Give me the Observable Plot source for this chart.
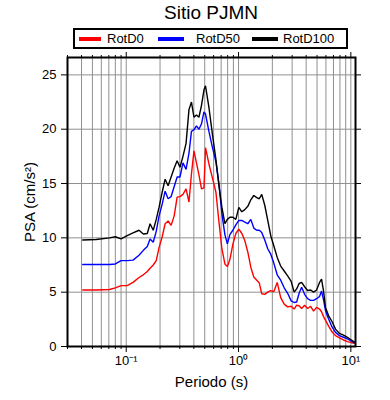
<!DOCTYPE html>
<html><head><meta charset="utf-8">
<script src="https://cdn.jsdelivr.net/npm/d3@7"></script>
<script src="https://cdn.jsdelivr.net/npm/@observablehq/plot@0.6"></script>
<style>
body{margin:0;background:#fff;font-family:"Liberation Sans",Arial,Helvetica,sans-serif;}
#wrap{position:relative;width:390px;height:400px;overflow:hidden;background:#fff;}
#title{position:absolute;left:0;width:422px;top:3px;text-align:center;font-size:19px;line-height:19px;color:#000;}
#legend{position:absolute;left:73px;top:28px;width:275px;height:21px;box-sizing:border-box;border:2px solid #000;background:#fff;}
#legend .sw{position:absolute;height:4px;top:6.5px;}
#legend .lb{position:absolute;top:0;line-height:17px;font-size:13px;color:#000;white-space:nowrap;}
#chart{position:absolute;left:0;top:52px;}
</style></head>
<body>
<div id="wrap">
  <div id="title">Sitio PJMN</div>
  <div id="legend"></div>
  <div id="chart"></div>
</div>
<script>
const seriesNames = ["RotD0", "RotD50", "RotD100"];
const seriesColors = ["#ff0000", "#0000ff", "#000000"];

const periods = [0.041, 0.054, 0.071, 0.080, 0.090, 0.102, 0.115, 0.130, 0.142, 0.154,
  0.163, 0.174, 0.185, 0.196, 0.209, 0.222, 0.236, 0.251, 0.267, 0.284,
  0.301, 0.320, 0.341, 0.362, 0.381, 0.401, 0.422, 0.444, 0.468, 0.492,
  0.508, 0.545, 0.586, 0.629, 0.669, 0.711, 0.756, 0.795, 0.837, 0.890,
  0.946, 1.006, 1.070, 1.137, 1.209, 1.286, 1.367, 1.453, 1.530, 1.609,
  1.712, 1.820, 1.935, 2.057, 2.210, 2.373, 2.550, 2.737, 2.942, 3.127,
  3.291, 3.463, 3.646, 3.875, 4.120, 4.381, 4.658, 4.952, 5.265, 5.484,
  5.712, 5.950, 6.326, 6.797, 7.300, 7.922, 8.598, 9.328, 10.12, 10.76];

const rotD0 = [5.2, 5.2, 5.25, 5.4, 5.6, 5.6, 5.9, 6.35, 6.6, 6.9,
  7.2, 7.5, 7.9, 9.1, 10.1, 11.3, 11.55, 11.15, 12.0, 13.75,
  13.8, 14.0, 14.5, 13.3, 15.9, 18.0, 16.9, 15.8, 14.5, 14.6,
  18.3, 16.8, 15.5, 14.2, 11.5, 9.0, 7.6, 7.35, 8.0, 9.4,
  10.4, 10.8, 10.4, 9.75, 8.7, 7.3, 6.4, 6.1, 5.85, 4.85,
  4.8, 5.0, 5.15, 5.05, 5.9, 4.5, 3.9, 3.65, 3.7, 3.45,
  3.8, 3.75, 3.5, 3.8, 3.5, 3.7, 3.25, 3.6, 3.45, 3.2,
  2.75, 2.4, 1.9, 1.35, 1.0, 0.8, 0.6, 0.45, 0.35, 0.3];

const rotD50 = [7.55, 7.55, 7.55, 7.6, 7.9, 7.9, 7.95, 8.4, 8.85, 9.2,
  9.9, 9.6, 10.6, 12.0, 13.1, 14.3, 13.6, 13.8, 14.7, 15.6,
  15.6, 16.9, 16.3, 17.8, 19.8, 19.95, 20.3, 20.0, 20.5, 21.6,
  21.4, 19.8, 18.3, 17.0, 15.0, 12.2, 10.3, 9.45, 10.3, 10.7,
  11.2, 11.6, 11.6, 11.45, 11.3, 11.7, 10.9, 10.7, 10.7, 10.5,
  9.8, 9.0, 8.5, 7.7, 6.6, 6.1, 5.4, 4.9, 4.2, 4.05,
  4.1, 4.9, 5.45, 4.8, 4.4, 4.25, 4.25, 4.4, 4.6, 5.1,
  4.3, 3.3, 2.55, 1.8, 1.3, 1.0, 0.85, 0.7, 0.5, 0.35];

const rotD100 = [9.8, 9.85, 10.0, 10.1, 9.9, 10.2, 10.45, 10.7, 10.35, 10.4,
  11.3, 10.7, 11.7, 12.8, 14.2, 15.4, 14.8, 15.6, 16.4, 17.1,
  16.5, 17.5, 18.7, 21.8, 22.5, 21.1, 21.3, 21.1, 22.2, 23.6,
  24.0, 22.0, 19.5, 17.2, 14.8, 12.8, 11.3, 11.7, 11.9, 11.9,
  11.7, 12.8, 12.4, 12.6, 12.9, 13.5, 13.9, 13.7, 13.6, 14.0,
  13.0, 11.6, 10.2, 9.3, 8.2, 7.4, 6.95, 6.5, 6.0, 5.0,
  5.3, 5.8, 5.9, 5.5, 5.15, 5.2, 5.0, 5.2, 5.9, 6.2,
  5.1, 3.6, 2.85, 2.3, 1.6, 1.2, 1.05, 0.85, 0.6, 0.4];

const xMajorTicks = [0.1, 1, 10];
const xMajorLabels = ["10\u207B\u00B9", "10\u2070", "10\u00B9"];
const xMinorTicks = [0.03, 0.04, 0.05, 0.06, 0.07, 0.08, 0.09,
  0.2, 0.3, 0.4, 0.5, 0.6, 0.7, 0.8, 0.9,
  2, 3, 4, 5, 6, 7, 8, 9];
const xGridTicks = xMinorTicks.concat(xMajorTicks);
const yTicks = [0, 5, 10, 15, 20, 25];
const yGridTicks = [5, 10, 15, 20, 25];
const titleText = "Sitio PJMN";
const xLabel = "Periodo (s)";
const yLabel = "PSA (cm/s\u00B2)";

document.getElementById("title").textContent = titleText;

// legend
const legend = document.getElementById("legend");
const legendLayout = [[4, 22, 32], [83, 26, 121], [177, 26, 208]];
seriesNames.forEach((name, i) => {
  const [sx, sw, tx] = legendLayout[i];
  const s = document.createElement("div");
  s.className = "sw"; s.style.left = sx + "px"; s.style.width = sw + "px"; s.style.background = seriesColors[i];
  legend.appendChild(s);
  const t = document.createElement("div");
  t.className = "lb"; t.style.left = tx + "px"; t.textContent = name;
  legend.appendChild(t);
});

const allSeries = [rotD0, rotD50, rotD100];
const rows = [];
allSeries.forEach((vals, i) => vals.forEach((v, j) => rows.push({series: seriesNames[i], period: periods[j], psa: v})));

const fmt = new Map(xMajorTicks.map((t, i) => [t, xMajorLabels[i]]));
const noLabel = () => "";

const chart = Plot.plot({
  width: 390,
  height: 348,
  marginTop: 5,
  marginBottom: 54,
  marginLeft: 67,
  marginRight: 35,
  style: {fontFamily: "'Liberation Sans', Arial, Helvetica, sans-serif", fontSize: "13px", color: "#000", background: "#fff", overflow: "visible"},
  x: {type: "log", domain: [0.03, 11], label: null},
  y: {domain: [0, 26.6], label: null},
  color: {domain: seriesNames, range: seriesColors},
  marks: [
    Plot.gridX(xGridTicks, {stroke: "#909090", strokeOpacity: 1, strokeWidth: 1}),
    Plot.gridY(yGridTicks, {stroke: "#909090", strokeOpacity: 1, strokeWidth: 1}),
    Plot.line(rows, {x: "period", y: "psa", z: "series", stroke: "series", strokeWidth: 1.4, strokeLinejoin: "miter"}),
    Plot.axisX(xMajorTicks, {anchor: "bottom", tickSize: 6, tickPadding: 3, tickFormat: d => fmt.get(d), label: null, fontSize: 13}),
    Plot.axisX(xMinorTicks, {anchor: "bottom", tickSize: 3, tickFormat: noLabel, label: null}),
    Plot.axisX(xMajorTicks, {anchor: "top", tickSize: 6, tickFormat: noLabel, label: null}),
    Plot.axisX(xMinorTicks, {anchor: "top", tickSize: 3, tickFormat: noLabel, label: null}),
    Plot.axisY(yTicks, {anchor: "left", tickSize: 6, tickPadding: 5, label: null, fontSize: 13}),
    Plot.axisY(yTicks, {anchor: "right", tickSize: 5, tickFormat: noLabel, label: null}),
    Plot.frame({stroke: "#000", strokeWidth: 2}),
    Plot.text([xLabel], {frameAnchor: "bottom", dy: 36, lineAnchor: "middle", textAnchor: "middle", fontSize: 15, fill: "#000"}),
    Plot.text([yLabel], {frameAnchor: "left", dx: -37, rotate: -90, lineAnchor: "middle", textAnchor: "middle", fontSize: 15, fill: "#000"})
  ]
});
document.getElementById("chart").appendChild(chart);
</script>
</body></html>
